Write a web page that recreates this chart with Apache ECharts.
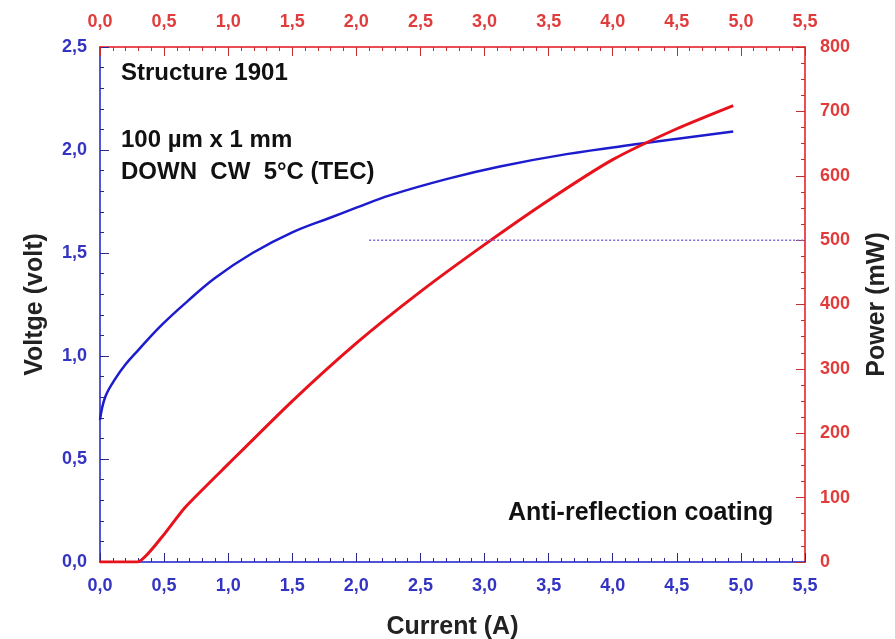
<!DOCTYPE html>
<html>
<head>
<meta charset="utf-8">
<script src="https://cdn.jsdelivr.net/npm/echarts@6/dist/echarts.min.js"></script>
<style>
  html, body { margin: 0; padding: 0; background: #fff; }
  #main { width: 895px; height: 639px; }
</style>
</head>
<body>
<div id="main"></div>
<script>
  // voltage curve (blue, left axis)
  var currentV = [0, 0.04, 0.12, 0.2, 0.3, 0.48, 0.69, 0.9, 1.19, 1.5, 1.79, 2.0, 2.26, 2.71, 3.12, 3.64, 4.21, 4.94];
  var voltage  = [0.69, 0.80, 0.89, 0.96, 1.03, 1.15, 1.27, 1.38, 1.50, 1.60, 1.67, 1.72, 1.78, 1.86, 1.92, 1.98, 2.03, 2.09];
  // power curve (red, right axis)
  var currentP = [0, 0.29, 0.48, 0.66, 1.0, 1.5, 2.0, 2.5, 3.0, 3.5, 4.0, 4.5, 4.94];
  var power    = [0, 0, 38, 84, 152, 250, 340, 420, 493, 562, 625, 673, 709];
  // dotted reference level
  var refCurrent = [2.1, 5.5];
  var refPower   = [500, 500];

  var blue = '#1c1cce', red = '#e8121c';
  var blueTxt = '#3434c2', redTxt = '#e03c3c';
  var font = '"Liberation Sans", Arial, sans-serif';

  function pairs(xs, ys) {
    return xs.map(function (x, i) { return [x, ys[i]]; });
  }
  function comma(v) { return v.toFixed(1).replace('.', ','); }

  var myChart = echarts.init(document.getElementById('main'));
  myChart.setOption({
    animation: false,
    backgroundColor: '#fff',
    grid: { left: 100, right: 90, top: 47, bottom: 77, outerBoundsMode: 'none' },
    xAxis: [
      {
        type: 'value', position: 'bottom', min: 0, max: 5.5, interval: 0.5,
        name: 'Current (A)', nameLocation: 'middle', nameGap: 53,
        nameTextStyle: { fontFamily: font, fontWeight: 'bold', fontSize: 25, color: '#222' },
        axisLine: { onZero: false, lineStyle: { color: blue, width: 1.5 } },
        axisTick: { inside: true, length: 9, lineStyle: { color: '#2a2a90' } },
        minorTick: { show: true, splitNumber: 5, length: 4, lineStyle: { color: '#2a2a90' } },
        axisLabel: { formatter: comma, color: blueTxt, fontFamily: font, fontWeight: 'bold', fontSize: 18, margin: 15 },
        splitLine: { show: false }
      },
      {
        type: 'value', position: 'top', min: 0, max: 5.5, interval: 0.5,
        axisLine: { onZero: false, lineStyle: { color: red, width: 1.5 } },
        axisTick: { inside: true, length: 9, lineStyle: { color: '#c03030' } },
        minorTick: { show: true, splitNumber: 5, length: 4, lineStyle: { color: '#c03030' } },
        axisLabel: { formatter: comma, color: redTxt, fontFamily: font, fontWeight: 'bold', fontSize: 18, margin: 16 },
        splitLine: { show: false }
      }
    ],
    yAxis: [
      {
        type: 'value', position: 'left', min: 0, max: 2.5, interval: 0.5,
        name: 'Voltge (volt)', nameLocation: 'middle', nameGap: 52, nameRotate: 90,
        nameTextStyle: { fontFamily: font, fontWeight: 'bold', fontSize: 25, color: '#222' },
        axisLine: { show: true, onZero: false, lineStyle: { color: blue, width: 1.5 } },
        axisTick: { show: true, inside: true, length: 9, lineStyle: { color: '#2a2a90' } },
        minorTick: { show: true, splitNumber: 5, length: 4, lineStyle: { color: '#2a2a90' } },
        axisLabel: { formatter: comma, color: blueTxt, fontFamily: font, fontWeight: 'bold', fontSize: 18, margin: 13 },
        splitLine: { show: false }
      },
      {
        type: 'value', position: 'right', min: 0, max: 800, interval: 100,
        name: 'Power (mW)', nameLocation: 'middle', nameGap: 60, nameRotate: 90,
        nameTextStyle: { fontFamily: font, fontWeight: 'bold', fontSize: 25, color: '#222' },
        axisLine: { show: true, onZero: false, lineStyle: { color: red, width: 1.5 } },
        axisTick: { show: true, inside: true, length: 9, lineStyle: { color: '#c03030' } },
        minorTick: { show: true, splitNumber: 4, length: 4, lineStyle: { color: '#c03030' } },
        axisLabel: { color: redTxt, fontFamily: font, fontWeight: 'bold', fontSize: 18, margin: 15 },
        splitLine: { show: false }
      }
    ],
    graphic: [
      { type: 'text', x: 121, y: 73, style: { text: 'Structure 1901', font: 'bold 24px ' + font, fill: '#111', verticalAlign: 'middle' } },
      { type: 'text', x: 121, y: 140, style: { text: '100 µm x 1 mm', font: 'bold 24px ' + font, fill: '#111', verticalAlign: 'middle' } },
      { type: 'text', x: 121, y: 172, style: { text: 'DOWN  CW  5°C (TEC)', font: 'bold 24px ' + font, fill: '#111', verticalAlign: 'middle' } },
      { type: 'text', x: 508, y: 513, style: { text: 'Anti-reflection coating', font: 'bold 25px ' + font, fill: '#111', verticalAlign: 'middle' } }
    ],
    series: [
      {
        type: 'line', xAxisIndex: 0, yAxisIndex: 0, data: pairs(currentV, voltage),
        showSymbol: false, smooth: 0.4, lineStyle: { color: blue, width: 2.5 }
      },
      {
        type: 'line', xAxisIndex: 0, yAxisIndex: 1, data: pairs(currentP, power),
        showSymbol: false, smooth: 0.2, lineStyle: { color: red, width: 3 }
      },
      {
        type: 'line', xAxisIndex: 0, yAxisIndex: 1, data: pairs(refCurrent, refPower),
        showSymbol: false, lineStyle: { color: '#7a6ad8', width: 1.5, type: [2, 2] }
      }
    ]
  });
</script>
</body>
</html>
